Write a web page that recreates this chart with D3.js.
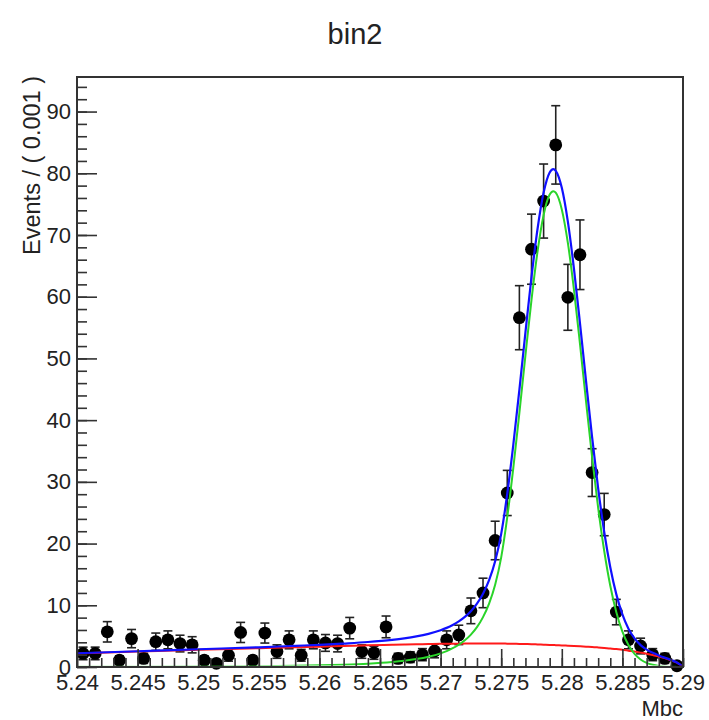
<!DOCTYPE html>
<html>
<head>
<meta charset="utf-8">
<script src="https://cdn.jsdelivr.net/npm/d3@7"></script>
<style>
  html, body { margin: 0; padding: 0; background: #fff; }
  svg { display: block; font-family: "Liberation Sans", Arial, Helvetica, sans-serif; }
</style>
</head>
<body>
<svg id="chart" width="709" height="720"></svg>
<script>
// ---- Binned data (Mbc, 0.001 GeV bins) ----
const binCenters = [
  5.2405, 5.2415, 5.2425, 5.2435, 5.2445, 5.2455, 5.2465, 5.2475, 5.2485, 5.2495,
  5.2505, 5.2515, 5.2525, 5.2535, 5.2545, 5.2555, 5.2565, 5.2575, 5.2585, 5.2595,
  5.2605, 5.2615, 5.2625, 5.2635, 5.2645, 5.2655, 5.2665, 5.2675, 5.2685, 5.2695,
  5.2705, 5.2715, 5.2725, 5.2735, 5.2745, 5.2755, 5.2765, 5.2775, 5.2785, 5.2795,
  5.2805, 5.2815, 5.2825, 5.2835, 5.2845, 5.2855, 5.2865, 5.2875, 5.2885, 5.2895
];
const eventCounts = [
  2.2, 2.2, 5.7, 1.1, 4.6, 1.4, 4.1, 4.4, 3.8, 3.6,
  1.1, 0.6, 1.9, 5.6, 1.1, 5.5, 2.5, 4.4, 1.9, 4.4,
  3.9, 3.8, 6.3, 2.5, 2.3, 6.5, 1.4, 1.6, 2.0, 2.6,
  4.4, 5.2, 9.1, 12.0, 20.5, 28.2, 56.6, 67.7, 75.5, 84.6,
  59.9, 66.8, 31.5, 24.7, 8.9, 4.4, 3.4, 2.0, 1.4, 0.2
];
const eventErrors = [
  1.02, 1.02, 1.65, 0.72, 1.48, 0.82, 1.40, 1.45, 1.35, 1.31,
  0.72, 0.53, 0.95, 1.63, 0.72, 1.62, 1.09, 1.45, 0.95, 1.45,
  1.36, 1.35, 1.73, 1.09, 1.05, 1.76, 0.82, 0.87, 0.98, 1.11,
  1.45, 1.57, 2.08, 2.39, 3.12, 3.66, 5.19, 5.68, 6.00, 6.35,
  5.34, 5.64, 3.87, 3.43, 2.06, 1.45, 1.27, 0.98, 0.82, 0.30
];

// ---- Fit curves sampled along Mbc ----
const curveMass = [
  5.240, 5.245, 5.250, 5.255, 5.258, 5.260, 5.262, 5.264, 5.266, 5.267,
  5.268, 5.269, 5.270, 5.2705, 5.271, 5.2715, 5.272, 5.2725, 5.273, 5.2735,
  5.274, 5.2745, 5.275, 5.2755, 5.276, 5.2765, 5.277, 5.2775, 5.278, 5.2785,
  5.279, 5.2793, 5.2795, 5.280, 5.2805, 5.281, 5.2815, 5.282, 5.2825, 5.283,
  5.2835, 5.284, 5.2845, 5.285, 5.2855, 5.286, 5.2865, 5.287, 5.2875, 5.288,
  5.289, 5.2895, 5.290
];
const signalCurve = [
  0.03, 0.05, 0.08, 0.14, 0.21, 0.28, 0.38, 0.54, 0.81, 1.01,
  1.28, 1.66, 2.21, 2.58, 3.04, 3.61, 4.33, 5.25, 6.46, 8.08,
  10.27, 13.34, 17.77, 24.29, 32.27, 41.18, 50.50, 59.50, 67.35, 73.25,
  76.55, 77.10, 76.85, 74.14, 68.71, 61.19, 52.35, 43.03, 33.99, 25.79,
  18.80, 13.17, 8.87, 5.73, 3.56, 2.13, 1.22, 0.67, 0.36, 0.18,
  0.04, 0.02, 0.01
];
const backgroundCurve = [
  2.20, 2.50, 2.80, 3.05, 3.22, 3.30, 3.42, 3.51, 3.59, 3.63,
  3.67, 3.71, 3.75, 3.76, 3.77, 3.78, 3.79, 3.80, 3.80, 3.80,
  3.80, 3.80, 3.80, 3.78, 3.76, 3.74, 3.72, 3.70, 3.66, 3.62,
  3.58, 3.56, 3.54, 3.50, 3.45, 3.40, 3.35, 3.30, 3.25, 3.17,
  3.08, 3.00, 2.90, 2.80, 2.65, 2.50, 2.33, 2.15, 1.93, 1.70,
  1.10, 0.70, 0.00
];
const totalCurve = [
  2.23, 2.55, 2.88, 3.19, 3.43, 3.58, 3.80, 4.05, 4.40, 4.64,
  4.95, 5.37, 5.96, 6.34, 6.81, 7.39, 8.12, 9.05, 10.26, 11.88,
  14.07, 17.14, 21.57, 28.07, 36.03, 44.92, 54.22, 63.20, 71.01, 76.87,
  80.13, 80.66, 80.39, 77.64, 72.16, 64.59, 55.70, 46.33, 37.24, 28.96,
  21.88, 16.17, 11.77, 8.53, 6.21, 4.63, 3.55, 2.82, 2.29, 1.88,
  1.14, 0.72, 0.01
];

// ---- Axis ticks and labels ----
const xTickValues = [5.24, 5.245, 5.25, 5.255, 5.26, 5.265, 5.27, 5.275, 5.28, 5.285, 5.29];
const xTickLabels = ["5.24", "5.245", "5.25", "5.255", "5.26", "5.265", "5.27", "5.275", "5.28", "5.285", "5.29"];
const yTickValues = [0, 10, 20, 30, 40, 50, 60, 70, 80, 90];
const yTickLabels = ["0", "10", "20", "30", "40", "50", "60", "70", "80", "90"];
const chartTitle = "bin2";
const xTitle = "Mbc";
const yTitle = "Events / ( 0.001 )";

// ---- Layout ----
const frame = { left: 77, right: 683, top: 77, bottom: 667 };
const svg = d3.select("#chart");

const x = d3.scaleLinear().domain([5.24, 5.29]).range([frame.left, frame.right]);
const y = d3.scaleLinear().domain([0, 95.6]).range([frame.bottom, frame.top]);

svg.append("rect").attr("width", 709).attr("height", 720).attr("fill", "#fff");

svg.append("defs").append("clipPath").attr("id", "plotClip")
  .append("rect")
  .attr("x", frame.left).attr("y", frame.top)
  .attr("width", frame.right - frame.left)
  .attr("height", frame.bottom - frame.top - 1.5);

// ---- Data points with error bars ----
const pts = binCenters.map((m, i) => ({ m, v: eventCounts[i], e: eventErrors[i] }));
const gPts = svg.append("g");
const capHalf = 4.5;
gPts.selectAll("line.bar").data(pts).join("line")
  .attr("class", "bar")
  .attr("x1", d => x(d.m)).attr("x2", d => x(d.m))
  .attr("y1", d => y(d.v - d.e)).attr("y2", d => y(d.v + d.e))
  .attr("stroke", "#222").attr("stroke-width", 1.6);
gPts.selectAll("line.capHi").data(pts).join("line")
  .attr("class", "capHi")
  .attr("x1", d => x(d.m) - capHalf).attr("x2", d => x(d.m) + capHalf)
  .attr("y1", d => y(d.v + d.e)).attr("y2", d => y(d.v + d.e))
  .attr("stroke", "#222").attr("stroke-width", 1.6);
gPts.selectAll("line.capLo").data(pts).join("line")
  .attr("class", "capLo")
  .attr("x1", d => x(d.m) - capHalf).attr("x2", d => x(d.m) + capHalf)
  .attr("y1", d => y(Math.max(0, d.v - d.e))).attr("y2", d => y(Math.max(0, d.v - d.e)))
  .attr("stroke", "#222").attr("stroke-width", 1.6);
gPts.selectAll("circle").data(pts).join("circle")
  .attr("cx", d => x(d.m)).attr("cy", d => y(d.v))
  .attr("r", 6.4).attr("fill", "#000");

// ---- Fit curves: background (red), signal (green), total (blue) ----
const lineGen = vals => d3.line()
  .x((d, i) => x(curveMass[i]))
  .y(d => y(d))
  .curve(d3.curveMonotoneX)(vals);

const gCurves = svg.append("g").attr("clip-path", "url(#plotClip)");
gCurves.append("path").attr("d", lineGen(backgroundCurve))
  .attr("fill", "none").attr("stroke", "#ff1a1a").attr("stroke-width", 2);
gCurves.append("path").attr("d", lineGen(signalCurve))
  .attr("fill", "none").attr("stroke", "#2ad42a").attr("stroke-width", 2);
gCurves.append("path").attr("d", lineGen(totalCurve))
  .attr("fill", "none").attr("stroke", "#1010ff").attr("stroke-width", 2.2);

// ---- Axes (ticks point into the frame) ----
const axisColor = "#333";
const yMinor = d3.range(0, 96, 2);
const xMinor = d3.range(0, 51).map(i => 5.24 + i * 0.001);

const yMinorAxis = svg.append("g").attr("transform", `translate(${frame.left},0)`)
  .call(d3.axisLeft(y).tickValues(yMinor).tickSizeInner(-10).tickSizeOuter(0).tickFormat(""));
const yAxis = svg.append("g").attr("transform", `translate(${frame.left},0)`)
  .call(d3.axisLeft(y).tickValues(yTickValues).tickSizeInner(-20).tickSizeOuter(0).tickPadding(6)
    .tickFormat((d, i) => yTickLabels[i]));

const xMinorAxis = svg.append("g").attr("transform", `translate(0,${frame.bottom})`)
  .call(d3.axisBottom(x).tickValues(xMinor).tickSizeInner(-9).tickSizeOuter(0).tickFormat(""));
const xAxis = svg.append("g").attr("transform", `translate(0,${frame.bottom})`)
  .call(d3.axisBottom(x).tickValues(xTickValues).tickSizeInner(-18).tickSizeOuter(0).tickPadding(7)
    .tickFormat((d, i) => xTickLabels[i]));

[yMinorAxis, yAxis, xMinorAxis, xAxis].forEach(g => {
  g.select(".domain").remove();
  g.selectAll(".tick line").attr("stroke", axisColor).attr("stroke-width", 1.6);
  g.selectAll(".tick text").attr("fill", "#222").attr("font-size", 22)
    .attr("font-family", "'Liberation Sans', Arial, Helvetica, sans-serif");
});

// ---- Frame ----
svg.append("rect")
  .attr("x", frame.left).attr("y", frame.top)
  .attr("width", frame.right - frame.left).attr("height", frame.bottom - frame.top)
  .attr("fill", "none").attr("stroke", "#333").attr("stroke-width", 2);

// ---- Titles ----
svg.append("text")
  .attr("x", 355).attr("y", 44)
  .attr("text-anchor", "middle")
  .attr("font-size", 29).attr("fill", "#222")
  .text(chartTitle);

svg.append("text")
  .attr("x", frame.right).attr("y", 716)
  .attr("text-anchor", "end")
  .attr("font-size", 22).attr("fill", "#222")
  .text(xTitle);

svg.append("text")
  .attr("transform", `translate(40,${frame.top - 1}) rotate(-90)`)
  .attr("text-anchor", "end")
  .attr("font-size", 23.5).attr("fill", "#222")
  .text(yTitle);
</script>
</body>
</html>
